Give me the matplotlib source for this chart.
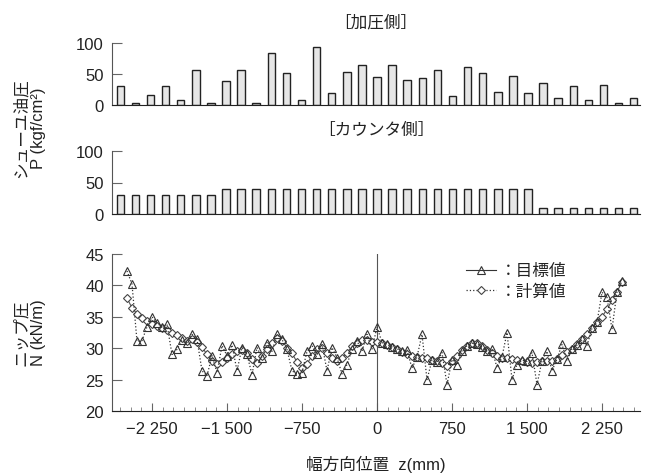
import numpy as np
import matplotlib
matplotlib.use("Agg")
import matplotlib.pyplot as plt
from matplotlib.lines import Line2D
from matplotlib.ticker import AutoMinorLocator

plt.rcParams['font.family'] = ['Liberation Sans', 'Noto Sans CJK JP']
plt.rcParams['axes.unicode_minus'] = True

# shoe pressures, 35 shoes across the width
press_side = [30, 3, 16, 31, 8, 56, 3, 39, 57, 3, 84, 52, 8, 93, 20, 54, 65, 45,
              65, 41, 44, 57, 14, 62, 52, 21, 46, 20, 36, 11, 31, 8, 33, 4, 11]
counter_side = [30] * 7 + [40] * 21 + [10] * 7
shoe_pitch = 151  # mm

# nip pressure along the width
z_pos = np.arange(-2500, 2500, 50)
calc_vals = [38.0, 36.4, 35.5, 34.8, 34.3, 33.8, 33.5, 33.2, 32.9, 32.5,
             32.1, 31.7, 31.2, 31.4, 31.0, 30.2, 29.0, 28.0, 27.5, 27.8,
             28.5, 29.1, 29.5, 29.7, 29.3, 28.3, 27.6, 28.7, 29.9, 30.9,
             31.7, 31.2, 30.1, 29.2, 27.8, 26.9, 27.5, 28.8, 29.8, 30.1,
             29.3, 28.5, 27.9, 28.4, 29.3, 30.3, 30.8, 31.3, 31.3, 31.0,
             31.0, 30.8, 30.5, 30.2, 29.8, 29.4, 29.0, 28.7, 28.6, 28.5,
             28.4, 28.2, 28.0, 27.6, 27.2, 27.9, 28.8, 29.7, 30.4, 30.8,
             30.8, 30.3, 29.7, 29.2, 28.8, 28.5, 28.4, 28.3, 28.2, 28.0,
             27.8, 27.7, 27.8, 28.0, 28.0, 28.0, 28.3, 28.9, 29.4, 29.9,
             30.6, 31.4, 32.3, 33.2, 34.1, 35.0, 36.2, 37.6, 39.0, 40.5]
target_vals = [42.3, 40.2, 31.1, 31.2, 33.4, 35.0, 34.0, 33.4, 33.8, 29.0,
               29.8, 31.3, 30.9, 32.2, 31.4, 26.4, 25.6, 28.8, 26.1, 30.4,
               28.8, 30.5, 26.4, 30.1, 29.0, 25.8, 30.1, 28.5, 30.9, 29.5,
               32.2, 31.4, 29.8, 26.4, 25.9, 26.1, 29.5, 30.4, 29.0, 30.6,
               26.4, 30.1, 28.5, 25.9, 27.4, 29.8, 31.2, 29.5, 32.2, 29.8,
               33.4, 30.9, 30.6, 30.2, 29.9, 29.5, 29.7, 26.8, 28.6, 32.2,
               25.0, 28.1, 27.8, 29.3, 24.2, 28.2, 27.4, 29.6, 30.4, 30.8,
               30.7, 30.2, 29.6, 29.8, 26.9, 28.6, 32.5, 25.0, 27.4, 28.1,
               27.9, 29.3, 24.2, 28.0, 29.5, 26.4, 28.3, 30.6, 28.0, 29.9,
               30.5, 31.4, 30.4, 33.2, 34.1, 38.9, 38.1, 33.0, 39.0, 40.7]

x_ticks = [-2250, -1500, -750, 0, 750, 1500, 2250]
x_ticklabels = ["\u22122 250", "\u22121 500", "\u2212750", "0", "750", "1 500", "2 250"]

ink = "#222222"
W, H = 655, 477
left, right = 112, 640
xlim = (-2650, 2630)

fig = plt.figure(figsize=(6.55, 4.77), dpi=100)
ax1 = fig.add_axes([left / W, 1 - 106 / H, (right - left) / W, 62 / H])
ax2 = fig.add_axes([left / W, 1 - 215 / H, (right - left) / W, 63 / H])
ax3 = fig.add_axes([left / W, 1 - 412 / H, (right - left) / W, 157 / H])

shoe_x = (np.arange(len(press_side)) - len(press_side) // 2) * shoe_pitch
for ax, vals, title in [(ax1, press_side, "［加圧側］"), (ax2, counter_side, "［カウンタ側］")]:
    ax.bar(shoe_x, vals, width=75, color="#e6e6e6", edgecolor=ink, linewidth=1.0)
    ax.set_xlim(xlim)
    ax.set_ylim(0, 100)
    ax.set_yticks([0, 50, 100])
    ax.set_xticks([])
    for s in ["top", "right"]:
        ax.spines[s].set_visible(False)
    ax.spines["left"].set_color("#555555")
    ax.spines["left"].set_linewidth(0.8)
    ax.spines["bottom"].set_color(ink)
    ax.tick_params(axis="y", direction="in", length=7, width=0.8, color="#666666",
                   labelsize=12, pad=6, labelcolor=ink)
    ax.set_title(title, fontsize=12, color=ink, pad=12)

ax3.axvline(0, color="#555555", lw=0.8)
ax3.plot(z_pos, calc_vals, ls="-", lw=0.8, color="#555555", marker="D", ms=4.4,
         mfc="white", mec="#444444", mew=0.8)
ax3.plot(z_pos, target_vals, ls=":", lw=0.9, color="#333333", marker="^", ms=5.5,
         mfc="none", mec="#333333", mew=0.8)
ax3.set_xlim(xlim)
ax3.set_ylim(20, 45)
ax3.set_yticks(range(20, 46, 5))
ax3.set_xticks(x_ticks)
ax3.set_xticklabels(x_ticklabels)
ax3.xaxis.set_minor_locator(AutoMinorLocator(7))
for s in ["top", "right"]:
    ax3.spines[s].set_visible(False)
ax3.spines["left"].set_color("#555555")
ax3.spines["left"].set_linewidth(0.8)
ax3.spines["bottom"].set_color(ink)
ax3.tick_params(axis="y", direction="in", length=7, width=0.8, color="#666666",
                labelsize=12, pad=6, labelcolor=ink)
ax3.tick_params(axis="x", which="major", direction="in", length=6, width=0.8,
                color="#666666", labelsize=12, pad=7, labelcolor=ink)
ax3.tick_params(axis="x", which="minor", direction="in", length=3, width=0.6,
                color="#777777")

handles = [
    Line2D([], [], ls="-", lw=0.8, color="#333333", marker="^", ms=5.5, mfc="none",
           mec="#333333", mew=0.8),
    Line2D([], [], ls=":", lw=0.9, color="#333333", marker="D", ms=4.4, mfc="white",
           mec="#444444", mew=0.8),
]
ax3.legend(handles, ["：目標値", "：計算値"], loc="upper left",
           bbox_to_anchor=(458 / W, 1 - 256 / H), bbox_transform=fig.transFigure,
           frameon=False, fontsize=12, handlelength=1.8, handletextpad=0.2,
           labelspacing=0.3, borderpad=0, labelcolor=ink)

fig.text(30 / W, 1 - 128 / H, "シューユ油圧\nP (kgf/cm²)", rotation=90, ha="center",
         va="center", fontsize=12, color=ink, linespacing=1.2)
fig.text(30 / W, 1 - 333 / H, "ニップ圧\nN (kN/m)", rotation=90, ha="center",
         va="center", fontsize=12, color=ink, linespacing=1.2)
fig.text(376 / W, 1 - 464 / H, "幅方向位置  z(mm)", ha="center", va="center",
         fontsize=12, color=ink)

fig.savefig("out.png", dpi=100, facecolor="white")
